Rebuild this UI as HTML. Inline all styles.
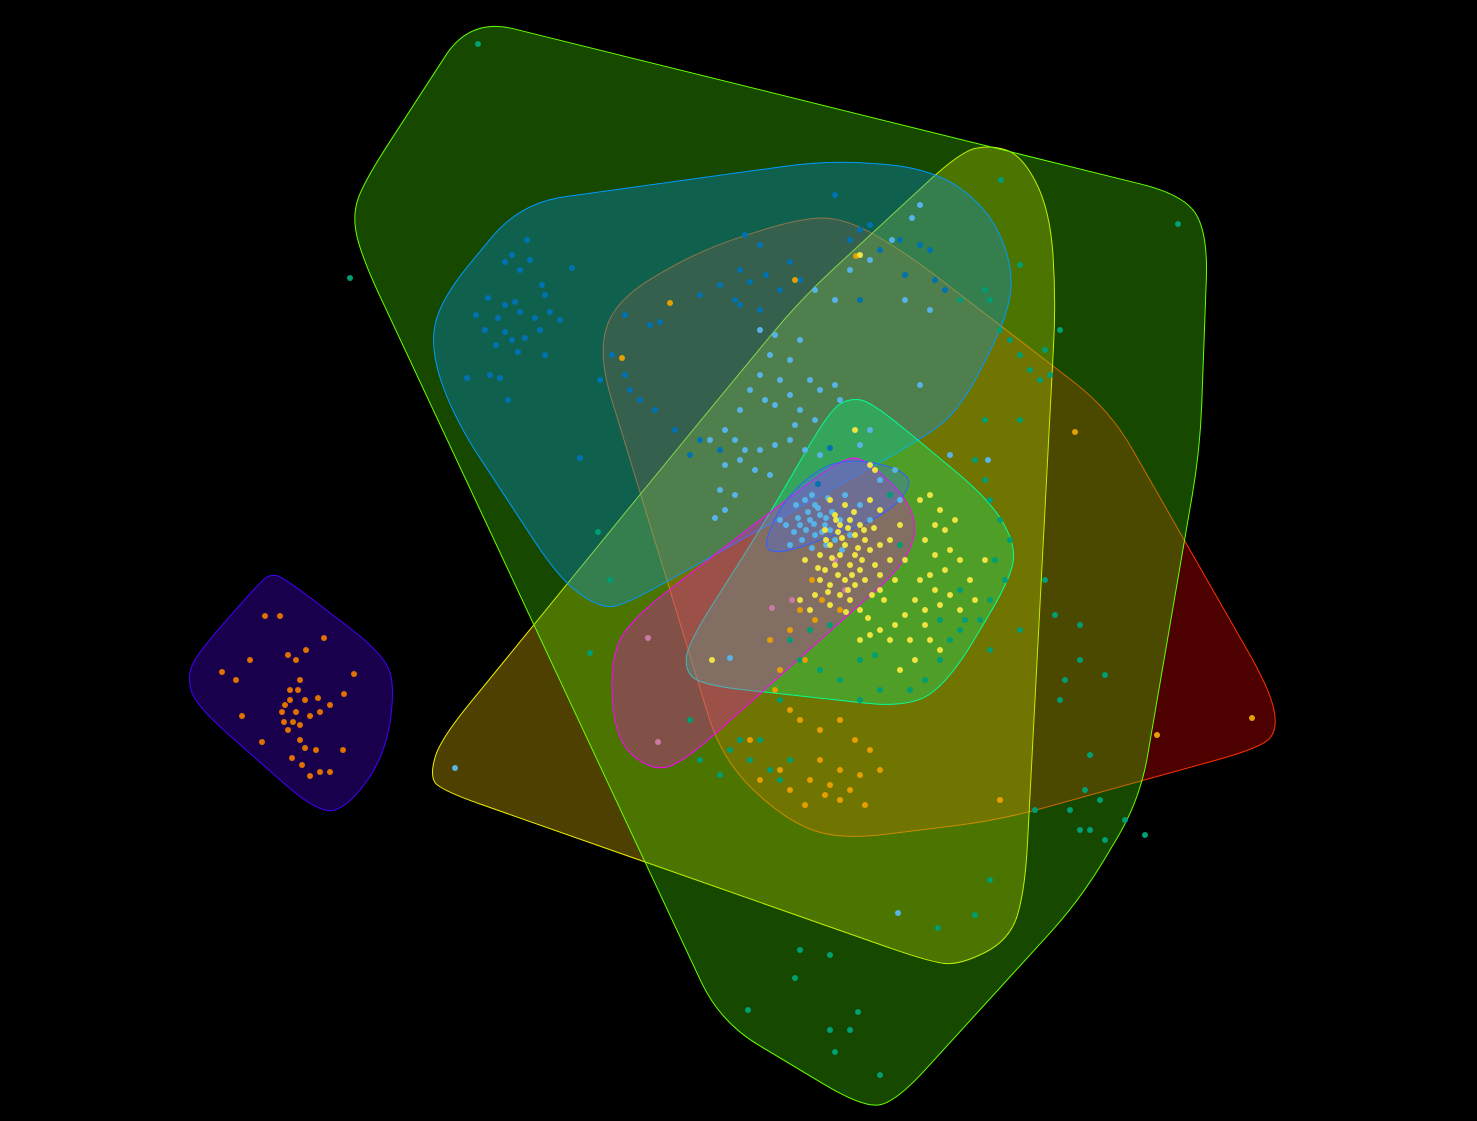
<!DOCTYPE html>
<html><head><meta charset="utf-8"><style>
html,body{margin:0;padding:0;background:#000;}
svg{display:block;}
</style></head><body>
<svg id="chart" width="1477" height="1121" viewBox="0 0 1477 1121">
<rect x="0" y="0" width="1477" height="1121" fill="#000"/>
<g id="hulls"></g>
<g id="points"></g>
</svg>
<script>
// ---- data (data units) ----
const hullGreen = [[470,18],[1185,195],[1208,235],[1200,450],[1140,800],[1080,900],[895,1103],[862,1107],[720,1022],[362,258],[352,215],[365,180]];
const hullBlue = [[520,203],[830,160],[930,168],[985,205],[1012,260],[1010,312],[960,410],[920,440],[625,605],[600,608],[560,580],[455,420],[430,350],[440,300]];
const hullRed = [[800,218],[845,218],[905,252],[1110,410],[1270,690],[1278,730],[1260,748],[1000,820],[840,840],[785,820],[722,760],[598,355],[615,300],[700,250]];
const hullYellow = [[990,145],[1022,155],[1050,210],[1056,300],[1025,890],[1010,940],[960,965],[930,962],[440,790],[430,775],[440,740],[660,470],[800,300],[960,152]];
const hullCyan = [[850,398],[872,402],[990,500],[1016,545],[1010,580],[950,680],[910,708],[700,685],[684,668],[690,640],[760,530],[830,410]];
const hullMagenta = [[842,458],[866,458],[918,510],[910,560],[680,765],[650,770],[615,740],[610,660],[630,620],[760,520]];
const hullLightBlue = [[840,458],[895,466],[915,484],[880,520],[762,560],[772,520],[800,482]];
const hullPurple = [[270,575],[282,576],[385,655],[395,690],[385,755],[350,805],[320,815],[195,705],[187,675],[200,650],[262,580]];

const ptsVermillion = [[265,616],[280,616],[222,672],[236,680],[250,660],[288,655],[296,660],[306,650],[324,638],[300,680],[298,690],[290,700],[285,705],[296,712],[305,700],[318,698],[330,705],[344,694],[354,674],[242,716],[284,722],[293,722],[310,716],[320,712],[262,742],[300,740],[305,748],[316,750],[343,750],[292,758],[302,765],[310,776],[320,772],[330,772],[290,690],[282,712],[288,730],[300,725]];
const ptsDarkBlue = [[527,240],[512,255],[530,260],[520,270],[505,262],[572,268],[542,285],[545,295],[488,298],[505,305],[515,302],[476,315],[498,318],[520,312],[535,318],[550,312],[560,320],[485,330],[505,332],[512,340],[525,338],[540,330],[496,345],[518,352],[545,355],[467,378],[490,375],[500,378],[508,400],[580,458],[625,315],[650,325],[660,322],[612,355],[625,375],[630,390],[640,400],[655,410],[600,380],[745,235],[760,245],[740,270],[750,282],[766,275],[790,262],[720,285],[735,300],[780,290],[800,280],[850,240],[860,230],[870,225],[880,250],[900,240],[920,245],[930,250],[905,275],[935,280],[945,290],[760,310],[740,305],[700,295],[675,430],[700,440],[720,450],[690,455],[860,300],[835,195],[830,448],[818,484]];
const ptsSkyBlue = [[920,205],[912,218],[892,240],[870,260],[850,270],[815,290],[835,300],[905,300],[930,310],[760,330],[775,335],[790,360],[800,340],[770,355],[760,375],[780,380],[750,390],[765,400],[775,405],[790,395],[810,380],[820,390],[835,385],[840,400],[800,410],[815,420],[795,425],[740,410],[725,430],[710,440],[735,440],[745,450],[760,450],[775,445],[790,440],[805,450],[820,455],[740,460],[725,465],[755,470],[770,475],[720,490],[735,495],[715,518],[725,510],[805,500],[815,505],[820,515],[810,520],[825,525],[830,530],[800,525],[815,535],[835,540],[812,548],[790,545],[845,495],[860,505],[870,520],[920,385],[950,455],[870,430],[860,445],[895,470],[900,500],[880,480],[730,658],[898,913],[455,768],[988,460],[808,512],[818,508],[826,518],[814,524],[822,532],[806,530],[798,518],[832,512],[840,520],[802,540],[794,532],[786,525],[812,495],[828,498],[796,505],[780,520],[850,535],[826,545],[842,550]];
const ptsYellow = [[830,500],[845,505],[835,515],[850,520],[860,525],[840,525],[825,530],[855,535],[865,540],[845,545],[830,545],[820,555],[840,555],[855,555],[870,550],[880,545],[890,540],[825,570],[835,565],[850,565],[860,570],[875,565],[820,580],[830,585],[845,580],[855,585],[865,580],[840,595],[850,600],[830,605],[860,610],[815,595],[805,560],[900,525],[870,500],[880,510],[920,500],[930,495],[940,510],[935,525],[945,530],[955,520],[925,540],[935,555],[950,550],[960,560],[945,570],[930,575],[920,580],[935,590],[950,595],[915,600],[925,610],[905,615],[895,625],[880,630],[870,635],[860,640],[890,640],[910,640],[925,625],[940,605],[960,610],[970,580],[985,560],[975,600],[930,640],[940,650],[915,660],[900,670],[875,470],[855,430],[870,465],[712,660],[800,600],[810,610],[860,255],[880,590],[895,580],[905,560],[890,560],[880,575],[838,532],[848,528],[858,548],[842,538],[832,558],[852,575],[862,560],[838,575],[828,592],[872,595],[846,612],[836,520],[854,512],[864,530],[874,528],[826,540],[818,568],[848,590],[868,618],[884,600]];
const ptsGreen = [[478,44],[1001,180],[1178,224],[350,278],[990,300],[1000,330],[1010,340],[1020,355],[1030,370],[1040,380],[1050,375],[1060,330],[1045,350],[1020,265],[985,290],[960,300],[975,460],[985,480],[990,500],[1000,520],[1010,540],[995,560],[1005,580],[990,600],[980,620],[960,630],[950,640],[940,660],[925,680],[910,690],[880,690],[860,700],[840,680],[820,670],[800,660],[790,640],[810,630],[830,625],[780,700],[760,740],[740,740],[750,760],[770,770],[790,760],[730,750],[720,775],[780,780],[990,650],[1020,630],[1055,615],[1080,625],[1065,680],[1060,700],[1080,660],[1105,675],[1090,755],[1085,790],[1100,800],[1070,810],[1035,810],[1080,830],[1090,830],[1125,820],[1105,840],[1145,835],[990,880],[975,915],[938,928],[800,950],[830,955],[795,978],[748,1010],[830,1030],[850,1030],[858,1012],[835,1052],[880,1075],[610,580],[598,532],[590,653],[690,720],[700,760],[1045,580],[1020,420],[985,420],[890,495],[900,545],[960,590],[965,620],[940,620],[860,660],[875,655]];
const ptsOrange = [[670,303],[622,358],[856,256],[1075,432],[795,280],[790,630],[770,640],[805,660],[780,670],[775,690],[790,710],[800,720],[820,730],[840,720],[855,740],[870,750],[880,770],[860,775],[840,770],[820,760],[810,780],[790,790],[780,770],[830,785],[850,790],[865,805],[840,800],[825,795],[805,805],[760,780],[1252,718],[1157,735],[750,740],[1000,800],[840,610],[815,620],[800,610],[812,580],[822,600]];
const ptsPink = [[648,638],[658,742],[792,600],[772,608],[835,560],[845,590]];

// ---- scales ----
const xMin=0,xMax=1477,yMin=0,yMax=1121,W=1477,H=1121;
const xS = v => (v-xMin)/(xMax-xMin)*W;
const yS = v => (v-yMin)/(yMax-yMin)*H;
const NS='http://www.w3.org/2000/svg';

function roundedPath(pts, r){
  const n=pts.length; const P=pts.map(p=>[xS(p[0]),yS(p[1])]);
  let d='';
  for(let i=0;i<n;i++){
    const a=P[(i-1+n)%n], b=P[i], c=P[(i+1)%n];
    const l1=Math.hypot(b[0]-a[0],b[1]-a[1]), l2=Math.hypot(c[0]-b[0],c[1]-b[1]);
    const r1=Math.min(r,l1/2), r2=Math.min(r,l2/2);
    const s=[b[0]+(a[0]-b[0])*r1/l1, b[1]+(a[1]-b[1])*r1/l1];
    const e=[b[0]+(c[0]-b[0])*r2/l2, b[1]+(c[1]-b[1])*r2/l2];
    d += (i===0?'M':'L')+s[0].toFixed(1)+','+s[1].toFixed(1)+' Q'+b[0].toFixed(1)+','+b[1].toFixed(1)+' '+e[0].toFixed(1)+','+e[1].toFixed(1)+' ';
  }
  return d+'Z';
}
const hg=document.getElementById('hulls');
function hull(pts, fill, stroke, name){
  const p=document.createElementNS(NS,'path');
  p.setAttribute('d',roundedPath(pts,45));
  p.setAttribute('fill',fill); p.setAttribute('fill-opacity','0.3');
  p.setAttribute('stroke',stroke); p.setAttribute('stroke-width','1');
  
  
  hg.appendChild(p);
}
hull(hullRed,'#ff0000','#ff3000','hull-red');
hull(hullYellow,'#ffd500','#f0f000','hull-yellow');
hull(hullGreen,'#49f000','#66ff00','hull-green');
hull(hullBlue,'#0099ff','#0099ff','hull-blue');
hull(hullCyan,'#00ff82','#00ff99','hull-cyan');
hull(hullMagenta,'#ff00f0','#ff00ff','hull-magenta');
hull(hullLightBlue,'#4070ff','#3060ff','hull-lightblue');
hull(hullPurple,'#5000ff','#4400ff','hull-purple');

const pg=document.getElementById('points');
function series(pts,color,name){
  const g=document.createElementNS(NS,'g');
  
  
  pts.forEach(p=>{
    const c=document.createElementNS(NS,'circle');
    c.setAttribute('cx',xS(p[0])); c.setAttribute('cy',yS(p[1])); c.setAttribute('r','3');
    c.setAttribute('fill',color);
    
    
    g.appendChild(c);
  });
  pg.appendChild(g);
}
series(ptsGreen,'#009e73','series-green');
series(ptsDarkBlue,'#0072b2','series-darkblue');
series(ptsOrange,'#e69f00','series-orange');
series(ptsPink,'#cc79a7','series-pink');
series(ptsSkyBlue,'#56b4e9','series-skyblue');
series(ptsYellow,'#f0e442','series-yellow');
series(ptsVermillion,'#e07000','series-vermillion');
</script>
</body></html>
